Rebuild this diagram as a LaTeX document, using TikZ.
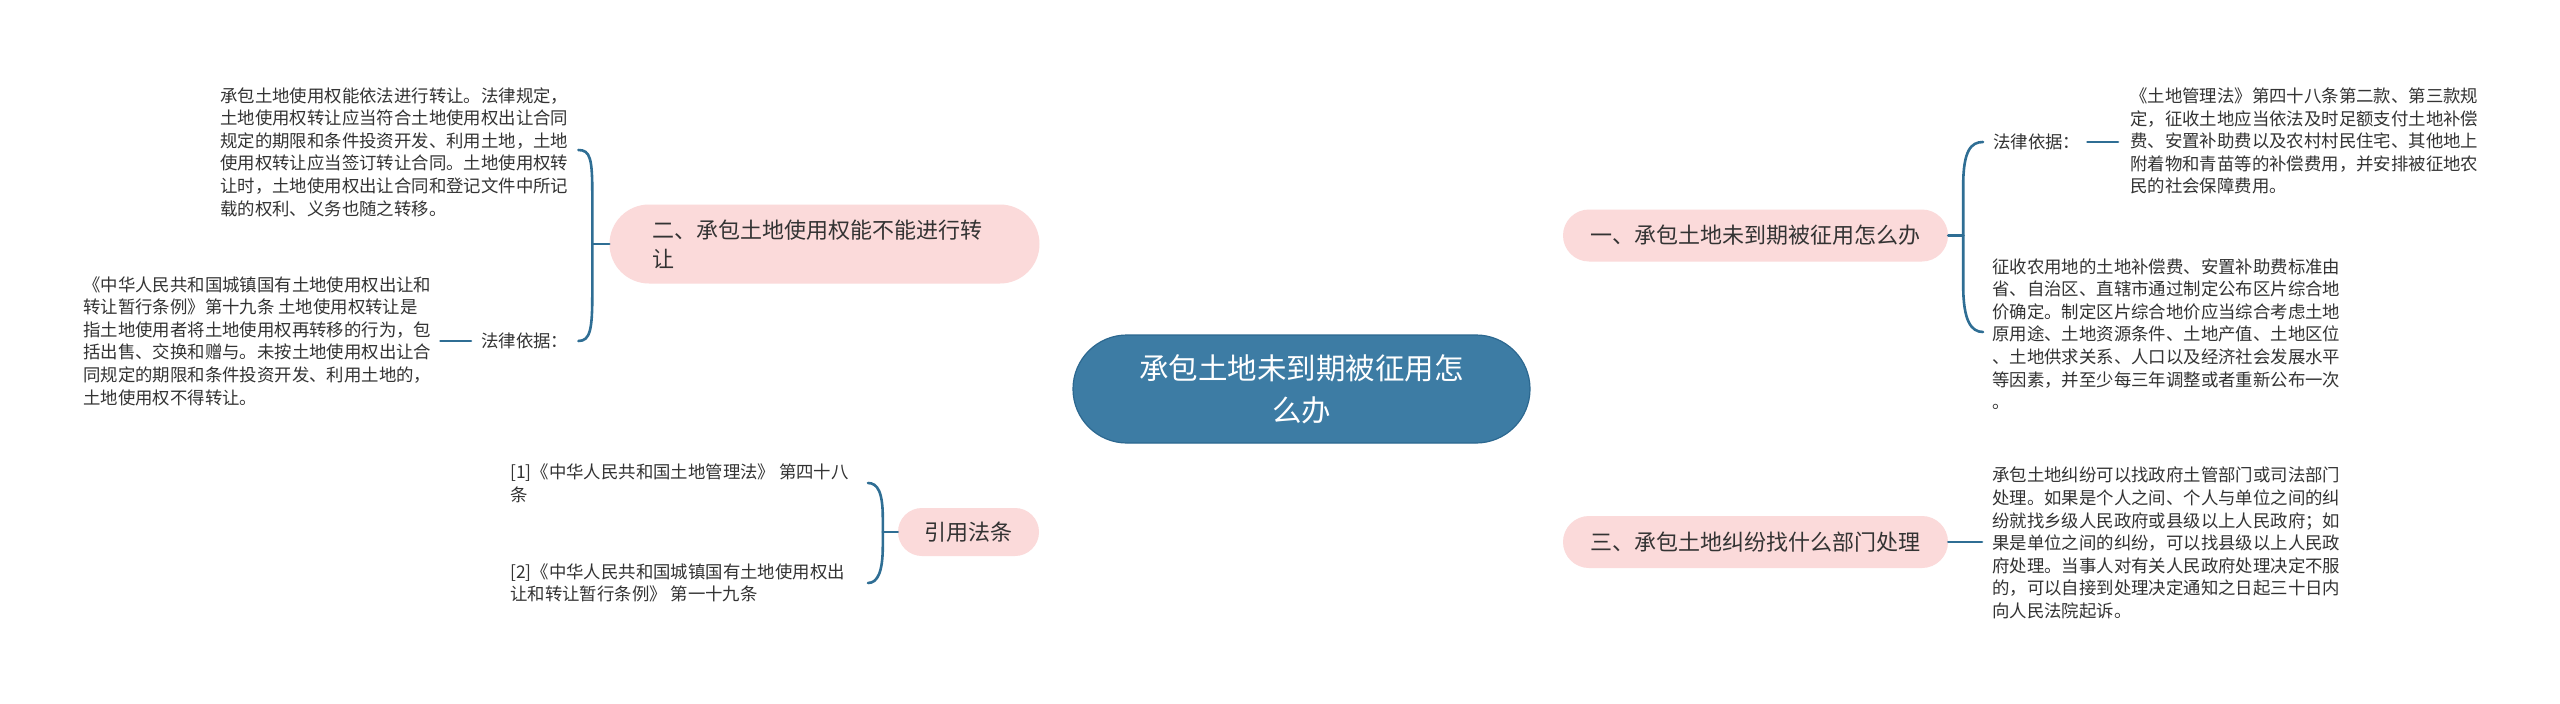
\documentclass[tikz,border=0pt]{standalone}
\usepackage{fontspec}
\setmainfont{Noto Sans CJK SC}
\usetikzlibrary{backgrounds,calc}
\definecolor{linec}{HTML}{2F6E94}
\definecolor{cfill}{HTML}{3D7CA4}
\definecolor{cdraw}{HTML}{2C6890}
\definecolor{pinkf}{HTML}{FBDADA}
\definecolor{txt}{HTML}{333333}
\begin{document}
\begin{tikzpicture}[x=1pt,y=-1pt,
  leaf/.style={inner sep=0pt, align=left, text=txt, font=\fontsize{17.4}{22.6}\selectfont},
  branch/.style={fill=pinkf, text=txt, font=\fontsize{22}{29}\selectfont, inner sep=0pt},
  central/.style={fill=cfill, draw=cdraw, line width=1.2pt, text=white, align=center,
    font=\fontsize{29.5}{42}\selectfont, inner sep=0pt, minimum width=457pt,
    minimum height=108pt, rounded corners=54pt},
  conn/.style={draw=linec, line width=2.6pt, line cap=round},
  mainconn/.style={draw=linec, line width=3pt, line cap=round}]
\useasboundingbox[fill=white] (0,0) rectangle (2560,704);

% central
\node[central] (c) at (1301.5,389) {承包土地未到期被征用怎\\么办};

% branches
\node[branch, minimum width=385pt, minimum height=52pt, rounded corners=26pt] (n1) at (1755.5,235.5) {一、承包土地未到期被征用怎么办};
\node[branch, minimum width=385pt, minimum height=52pt, rounded corners=26pt] (n3) at (1755.5,542) {三、承包土地纠纷找什么部门处理};
\node[branch, minimum width=430pt, minimum height=79pt, rounded corners=39.5pt, text width=345pt, align=left] (n2) at (824.5,244) {二、承包土地使用权能不能进行转\\让};
\node[branch, minimum width=141pt, minimum height=48pt, rounded corners=24pt] (ny) at (968.5,532) {引用法条};

% leaves of n2
\node[leaf, anchor=west] (lt) at (220,152) {承包土地使用权能依法进行转让。法律规定，\\土地使用权转让应当符合土地使用权出让合同\\规定的期限和条件投资开发、利用土地，土地\\使用权转让应当签订转让合同。土地使用权转\\让时，土地使用权出让合同和登记文件中所记\\载的权利、义务也随之转移。};
\node[leaf, anchor=west] (lbl) at (481,341) {法律依据：};
\node[leaf, anchor=west] (lbt) at (83,341) {《中华人民共和国城镇国有土地使用权出让和\\转让暂行条例》第十九条 土地使用权转让是\\指土地使用者将土地使用权再转移的行为，包\\括出售、交换和赠与。未按土地使用权出让合\\同规定的期限和条件投资开发、利用土地的，\\土地使用权不得转让。};

% leaves of n1
\node[leaf, anchor=west] (rl) at (1993,142) {法律依据：};
\node[leaf, anchor=west] (rtt) at (2130,141) {《土地管理法》第四十八条第二款、第三款规\\定，征收土地应当依法及时足额支付土地补偿\\费、安置补助费以及农村村民住宅、其他地上\\附着物和青苗等的补偿费用，并安排被征地农\\民的社会保障费用。};
\node[leaf, anchor=west] (rmt) at (1992,334) {征收农用地的土地补偿费、安置补助费标准由\\省、自治区、直辖市通过制定公布区片综合地\\价确定。制定区片综合地价应当综合考虑土地\\原用途、土地资源条件、土地产值、土地区位\\、土地供求关系、人口以及经济社会发展水平\\等因素，并至少每三年调整或者重新公布一次\\。};

% leaf of n3
\node[leaf, anchor=west] (rbt) at (1992,543) {承包土地纠纷可以找政府土管部门或司法部门\\处理。如果是个人之间、个人与单位之间的纠\\纷就找乡级人民政府或县级以上人民政府；如\\果是单位之间的纠纷，可以找县级以上人民政\\府处理。当事人对有关人民政府处理决定不服\\的，可以自接到处理决定通知之日起三十日内\\向人民法院起诉。};

% leaves of ny
\node[leaf, anchor=west] (r1) at (510,483) {[1]《中华人民共和国土地管理法》 第四十八\\条};
\node[leaf, anchor=west] (r2) at (510,583) {[2]《中华人民共和国城镇国有土地使用权出\\让和转让暂行条例》 第一十九条};

% main connectors
\begin{scope}[on background layer]
\draw[mainconn] (c.center) .. controls (1296,250) and (1200,244) .. (n2.east);
\draw[mainconn] (c.center) .. controls (1307,250) and (1400,236) .. (n1.west);
\draw[mainconn] (c.center) .. controls (1307,528) and (1400,542) .. (n3.west);
\draw[mainconn] (c.center) .. controls (1296,528) and (1200,532) .. (ny.west);
\end{scope}

% n2 bracket
\draw[conn] (n2.west) -- ++(-17,0) coordinate (l2m);
\draw[conn] (l2m) -- ++(0,-50) .. controls +(0,-35) and +(12,0) .. ($(lt.east)+(10,-2)$);
\draw[conn] (l2m) -- ++(0,50) .. controls +(0,35) and +(12,0) .. ($(lbl.east)+(10,0)$);
\draw[conn] ($(lbl.west)+(-10,0)$) -- ($(lbt.east |- lbl.west)+(9,0)$);

% n1 bracket
\draw[conn] (n1.east) -- ++(15,0) coordinate (r1m);
\draw[conn] (r1m) -- ++(0,-50) .. controls +(0,-35) and +(-12,0) .. ($(rl.west)+(-10,0)$);
\draw[conn] (r1m) -- ++(0,50) .. controls +(0,35) and +(-12,0) .. ($(rmt.west)+(-9,-2)$);
\draw[conn] ($(rl.east)+(7,0)$) -- ($(rtt.west |- rl.east)+(-12,0)$);

% n3 link
\draw[conn] (n3.east) -- ($(rbt.west |- n3.east)+(-10,0)$);

% ny bracket
\draw[conn] (ny.west) -- ++(-15,0) coordinate (ym);
\draw[conn] (ym) -- ++(0,-14) .. controls +(0,-25) and +(10,0) .. ($(r1.west)+(358,0)$);
\draw[conn] (ym) -- ++(0,14) .. controls +(0,25) and +(10,0) .. ($(r2.west)+(358,0)$);
\end{tikzpicture}
\end{document}
